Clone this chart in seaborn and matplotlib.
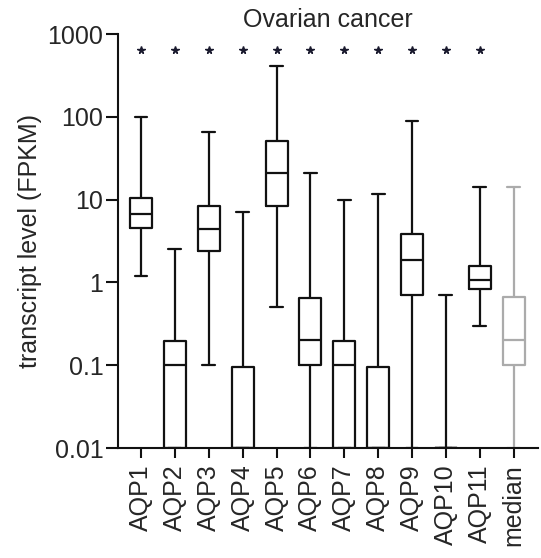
import numpy as np
import pandas as pd
import matplotlib
matplotlib.use("Agg")
import matplotlib.pyplot as plt
from matplotlib.ticker import FixedLocator, FixedFormatter, NullLocator
import seaborn as sns

# Transcript levels (FPKM) per aquaporin: five-number summaries
genes = ["AQP1", "AQP2", "AQP3", "AQP4", "AQP5", "AQP6",
         "AQP7", "AQP8", "AQP9", "AQP10", "AQP11", "median"]
wmin = [1.2, 0.01, 0.1, 0.01, 0.51, 0.01, 0.01, 0.01, 0.01, 0.01, 0.3, 0.01]
q1 = [4.6, 0.01, 2.4, 0.01, 8.4, 0.1, 0.01, 0.01, 0.71, 0.01, 0.83, 0.1]
med = [6.8, 0.1, 4.4, 0.01, 20.8, 0.2, 0.1, 0.01, 1.85, 0.01, 1.06, 0.2]
q3 = [10.4, 0.195, 8.4, 0.095, 50.6, 0.65, 0.195, 0.095, 3.9, 0.01, 1.6, 0.66]
wmax = [100, 2.55, 65, 7.1, 410, 21, 9.8, 11.6, 90, 0.71, 14.3, 14.3]
significant = [True] * 11 + [False]
star_level = 640

ytick_vals = [0.01, 0.1, 1, 10, 100, 1000]
ytick_labels = ["0.01", "0.1", "1", "10", "100", "1000"]

# Long-form table: five points per gene reproduce min / quartiles / max exactly
rows = []
for g, a, b, c, d, e in zip(genes, wmin, q1, med, q3, wmax):
    for v in (a, b, c, d, e):
        rows.append({"gene": g, "fpkm": v})
df = pd.DataFrame(rows)

sns.set_style("ticks")
plt.rcParams["font.family"] = ["Liberation Sans", "DejaVu Sans"]

fig = plt.figure(figsize=(5.41, 5.58), dpi=100)
ax = fig.add_axes([0.218, 0.197, 0.776, 0.742])
ax.set_yscale("log")

palette = {g: "#111111" for g in genes}
palette["median"] = "#ababab"

sns.boxplot(data=df, x="gene", y="fpkm", hue="gene", palette=palette,
            fill=False, whis=(0, 100), width=0.65, linewidth=1.6,
            capwidths=0.38, legend=False, ax=ax)

# significance markers
for i, (g, s) in enumerate(zip(genes, significant)):
    if s:
        ax.plot(i, star_level, marker="*", color="#1a1a2e",
                markersize=5.5, clip_on=False)

ax.set_ylim(0.01, 1000)
ax.set_xlim(-0.68, 11.71)
ax.yaxis.set_major_locator(FixedLocator(ytick_vals))
ax.yaxis.set_major_formatter(FixedFormatter(ytick_labels))
ax.yaxis.set_minor_locator(NullLocator())

sns.despine(ax=ax)
for sp in ("left", "bottom"):
    ax.spines[sp].set_linewidth(1.5)
    ax.spines[sp].set_color("#111111")

ax.tick_params(axis="y", length=8.5, width=1.5, labelsize=18, pad=2,
               color="#111111")
ax.tick_params(axis="x", length=7, width=1.5, labelsize=18, pad=5,
               labelrotation=90, color="#111111")

ax.set_xlabel("")
ax.set_ylabel("transcript level (FPKM)", fontsize=18, labelpad=4)
ax.set_title("Ovarian cancer", fontsize=18, pad=5)

fig.savefig("out.png", dpi=100)
